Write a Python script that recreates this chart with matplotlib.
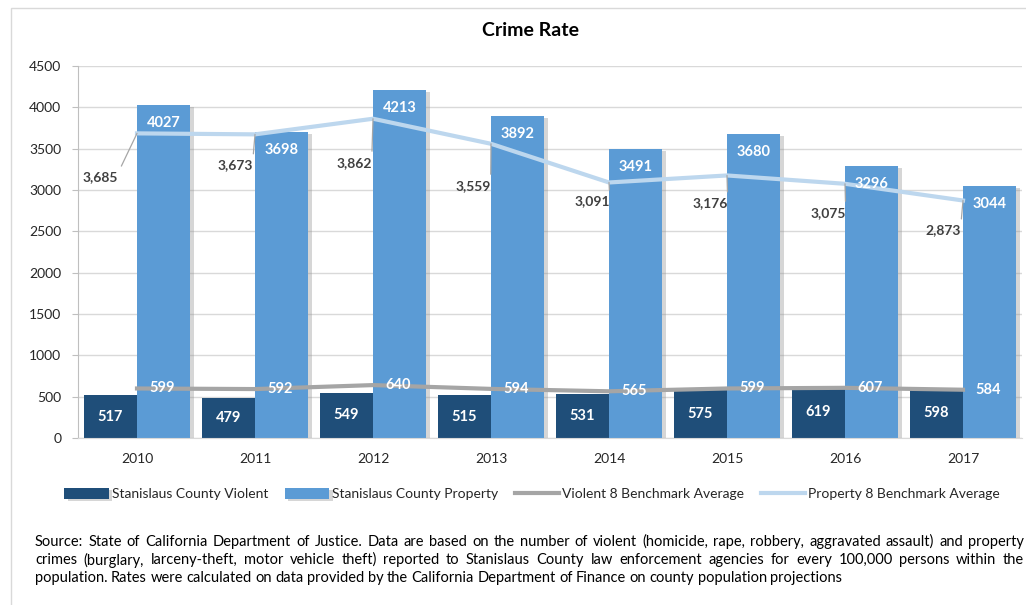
import numpy as np
import matplotlib
matplotlib.use("Agg")
import matplotlib.pyplot as plt
import matplotlib.patheffects as pe
from matplotlib.patches import Rectangle

plt.rcParams["font.family"] = ["Lato", "DejaVu Sans"]

# ------------------------------------
# Data
# ------------------------------------
years = ["2010", "2011", "2012", "2013", "2014", "2015", "2016", "2017"]
county_violent = [517, 479, 549, 515, 531, 575, 619, 598]
county_property = [4027, 3698, 4213, 3892, 3491, 3680, 3296, 3044]
bench_violent = [599, 592, 640, 594, 565, 599, 607, 584]
bench_property = [3685, 3673, 3862, 3559, 3091, 3176, 3075, 2873]

# label offsets (pixels) for the property benchmark labels
prop_label_offsets = [(-37, -44), (-20, -31), (-19, -44), (-18, -42),
                      (-17, -19), (-17, -28), (-17, -29), (-20, -30)]

c_violent = "#1F4E79"
c_property = "#5B9BD5"
c_bench_v = "#A5A5A5"
c_bench_p = "#BDD7EE"

W, H = 1026, 605
fig = plt.figure(figsize=(W / 100, H / 100), dpi=100)
ax = fig.add_axes([78 / W, 1 - 438 / H, (1022 - 78) / W, (438 - 66) / H])

x = np.arange(len(years))
bw = 0.45
shadow = [pe.SimplePatchShadow(offset=(2.5, -1.5), shadow_rgbFace="#8c8c8c", alpha=0.35), pe.Normal()]

bars_v = ax.bar(x - bw / 2, county_violent, bw, color=c_violent, zorder=2,
                label="Stanislaus County Violent")
bars_p = ax.bar(x + bw / 2, county_property, bw, color=c_property, zorder=2,
                label="Stanislaus County Property")
for b in list(bars_v) + list(bars_p):
    b.set_path_effects(shadow)

line_v, = ax.plot(x, bench_violent, color=c_bench_v, lw=3, zorder=3,
                  label="Violent 8 Benchmark Average")
line_p, = ax.plot(x, bench_property, color=c_bench_p, lw=3, zorder=3,
                  label="Property 8 Benchmark Average")

# bar labels
for i in range(len(years)):
    ax.text(x[i] - bw / 2, county_violent[i] / 2, str(county_violent[i]),
            ha="center", va="center", color="white", fontsize=10.5,
            fontweight="bold", zorder=5)
    ax.annotate(str(county_property[i]), (x[i] + bw / 2, county_property[i]),
                xytext=(0, -18), textcoords="offset pixels", ha="center",
                va="center", color="white", fontsize=10.5, fontweight="bold",
                zorder=5)
    ax.annotate(str(bench_violent[i]), (x[i], bench_violent[i]),
                xytext=(25, 0), textcoords="offset pixels", ha="center",
                va="center", color="white", fontsize=10.5, fontweight="bold",
                zorder=5)
    dx, dy = prop_label_offsets[i]
    ax.annotate(f"{bench_property[i]:,}", (x[i], bench_property[i]),
                xytext=(dx, dy), textcoords="offset pixels", ha="center",
                va="center", color="#404040", fontsize=10, fontweight="bold",
                zorder=5,
                arrowprops=dict(arrowstyle="-", color="#A6A6A6", lw=0.9,
                                shrinkA=2, shrinkB=0, relpos=(1, 0.8)))

# axes styling
ax.set_xlim(-0.5, len(years) - 0.5)
ax.set_ylim(0, 4500)
ax.set_yticks(np.arange(0, 4501, 500))
ax.set_xticks(x)
ax.set_xticklabels(years)
ax.grid(axis="y", color="#D9D9D9", lw=1, zorder=0)
ax.set_axisbelow(True)
for s in ["top", "right"]:
    ax.spines[s].set_visible(False)
ax.spines["left"].set_color("#BFBFBF")
ax.spines["bottom"].set_color("#D9D9D9")
ax.tick_params(axis="y", length=4, color="#BFBFBF", pad=8, labelsize=10,
               labelcolor="#262626")
ax.tick_params(axis="x", length=0, pad=11, labelsize=10, labelcolor="#262626")

fig.text(530 / W, 1 - 30 / H, "Crime Rate", ha="center", va="center",
         fontsize=14, fontweight="bold", color="black")

fig.legend(handles=[bars_v, bars_p, line_v, line_p],
           loc="center", bbox_to_anchor=(532 / W, 1 - 494 / H), ncol=4,
           frameon=False, fontsize=10, handlelength=3.2, handleheight=0.8,
           handletextpad=0.2, columnspacing=1.2, labelcolor="#262626")

# chart border
fig.patches.append(Rectangle((11 / W, -0.1), 1.2, 1 - 8 / H + 0.1,
                             transform=fig.transFigure, fill=False,
                             edgecolor="#D9D9D9", lw=1))

# justified footnote
note_lines = [
    "Source: State of California Department of Justice. Data are based on the number of violent (homicide, rape, robbery, aggravated assault) and property",
    "crimes (burglary, larceny-theft, motor vehicle theft) reported to Stanislaus County law enforcement agencies for every 100,000 persons within the",
    "population. Rates were calculated on data provided by the California Department of Finance on county population projections",
]
renderer = fig.canvas.get_renderer()
x0, x1 = 35, 1024
fs_note = 10.5
for k, line in enumerate(note_lines):
    y = 1 - (542 + 18 * k) / H
    words = line.split()
    objs = [fig.text(0, y, w, fontsize=fs_note, va="center", color="black") for w in words]
    widths = [o.get_window_extent(renderer).width for o in objs]
    if k < len(note_lines) - 1:
        gap = (x1 - x0 - sum(widths)) / (len(words) - 1)
    else:
        gap = 3.5
    xp = x0
    for o, w in zip(objs, widths):
        o.set_x(xp / W)
        xp += w + gap

fig.savefig("out.png", dpi=100)
